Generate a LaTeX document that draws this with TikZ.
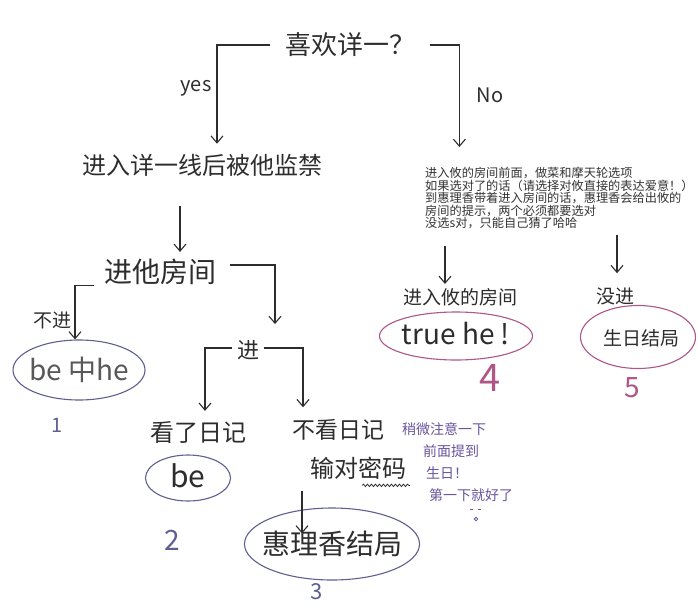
\documentclass[tikz,border=0pt]{standalone}
\usepackage{fontspec}
\setmainfont{Noto Sans CJK SC}
\newfontfamily\cjk{Noto Sans CJK SC}
\usetikzlibrary{arrows.meta,shapes.geometric,decorations.pathmorphing}
\definecolor{ink}{RGB}{45,45,45}
\definecolor{slate}{RGB}{95,95,145}
\definecolor{violetink}{RGB}{105,85,155}
\definecolor{pinkink}{RGB}{175,85,135}

\begin{document}
\begin{tikzpicture}[
  x=1pt, y=-1pt,
  arr/.style={draw=ink, line width=1.1pt, -{Straight Barb[length=7pt,width=12pt]}},
  hand/.style={text=ink, inner sep=2pt, font=\cjk\fontsize{#1}{#1}\selectfont},
  hand/.default=24,
  loopb/.style={ellipse, draw=slate, line width=1.1pt, inner sep=0pt},
  loopp/.style={ellipse, draw=pinkink, line width=1.1pt, inner sep=0pt},
  ]
\useasboundingbox (0,0) rectangle (698,608);
\fill[white] (0,0) rectangle (698,608);

% top question
\node[hand=26] (q) at (350,45) {喜欢详一？};
\node[hand=20] (yes) at (196,88) {yes};
\node[hand=20] (no) at (490,95) {No};

% yes branch
\node[hand=24] (n1) at (202,165) {进入详一线后被他监禁};
\node[hand=28] (n2) at (160,272) {进他房间};
\node[hand=19] (notin) at (52,320) {不进};
\node[loopb, minimum width=132pt, minimum height=60pt] (e1) at (79,370) {};
\node[hand=28, text=black!65] (t1) at (79,370) {be 中he};
\node[hand=20, text=slate] (k1) at (57,425) {1};
\node[hand=22] (n3) at (248,350) {进};
\node[hand=24] (n4) at (198,432) {看了日记};
\node[loopb, minimum width=85pt, minimum height=46pt] (e2) at (188,478) {};
\node[hand=30] (t2) at (188,476) {be};
\node[hand=28, text=slate] (k2) at (172,540) {2};
\node[hand=23] (n5) at (338,430) {不看日记};
\node[hand=24] (n6) at (358,468) {输对密码};
\node[loopb, minimum width=175pt, minimum height=72pt] (e3) at (332,544) {};
\node[hand=28] (t3) at (332,544) {惠理香结局};
\node[hand=22, text=slate] (k3) at (317,592) {3};

% purple remark
\node[text=violetink, anchor=north west, align=left, inner sep=0pt,
  font=\cjk\fontsize{14}{22}\selectfont] (tip) at (402,422)
  {稍微注意一下\\\hspace*{21pt}前面提到\\\hspace*{24pt}生日！\\\hspace*{27pt}第一下就好了};
\draw[violetink, line width=0.8pt] (470,509) -- (473,509) (478,509) -- (481,509);
\draw[violetink, line width=0.8pt] (476,519) circle (1.8pt);

% no branch
\node[anchor=north west, align=left, inner sep=0pt, text=black!80,
  font=\cjk\fontsize{12.2}{12.6}\selectfont] (note) at (425,167)
  {进入攸的房间前面，做菜和摩天轮选项\\
   如果选对了的话（请选择对攸直接的表达爱意！）\\
   到惠理香带着进入房间的话，惠理香会给出攸的\\
   房间的提示，两个必须都要选对\\
   没选s对，只能自己猜了哈哈};
\node[hand=19] (n7) at (460,297) {进入攸的房间};
\node[hand=19] (n8) at (615,296) {没进};
\node[loopp, minimum width=153pt, minimum height=48pt] (e4) at (456,336) {};
\node[hand=28] (t4) at (456,334) {true he !};
\node[hand=38, text=pinkink] (k4) at (490,378) {4};
\node[loopp, minimum width=115pt, minimum height=63pt] (e5) at (638,337) {};
\node[hand=19] (t5) at (641,338) {生日结局};
\node[hand=28, text=pinkink] (k5) at (632,388) {5};

% connectors
\draw[arr] ([xshift=-13pt]q.west) -| ([xshift=15pt,yshift=8pt]n1.north);
\draw[arr] ([xshift=13pt]q.east) -| ([xshift=-100pt,yshift=20pt]note.north);
\draw[arr] ([xshift=-22pt,yshift=-28pt]n1.south) -- ([xshift=20pt,yshift=5pt]n2.north);
\draw[arr] ([xshift=-8pt,yshift=2pt]n2.south west) -| ([xshift=-4pt]e1.north);
\draw[arr] ([xshift=12pt,yshift=7pt]n2.east) -| ([xshift=27pt,yshift=14pt]n3.north);
\draw[arr] ([xshift=-3pt,yshift=2pt]n3.west) -| ([xshift=7pt,yshift=8pt]n4.north);
\draw[arr] ([xshift=3pt,yshift=2pt]n3.east) -| ([xshift=-35pt,yshift=10pt]n5.north);
\draw[arr] ([xshift=-56pt,yshift=-10pt]n6.south) -- ([xshift=-30pt,yshift=-26pt]e3.north);
\draw[decorate, decoration={snake, amplitude=1.2pt, segment length=4pt},
  draw=ink, line width=0.8pt] ([xshift=-46pt,yshift=-4pt]n6.south east) -- ([xshift=2pt,yshift=-4pt]n6.south east);
\draw[arr] ([xshift=-15pt,yshift=40pt]n7.north) -- ([xshift=-15pt,yshift=2pt]n7.north);
\draw[arr] ([xshift=2pt,yshift=50pt]n8.north) -- ([xshift=2pt,yshift=12pt]n8.north);
\end{tikzpicture}
\end{document}
